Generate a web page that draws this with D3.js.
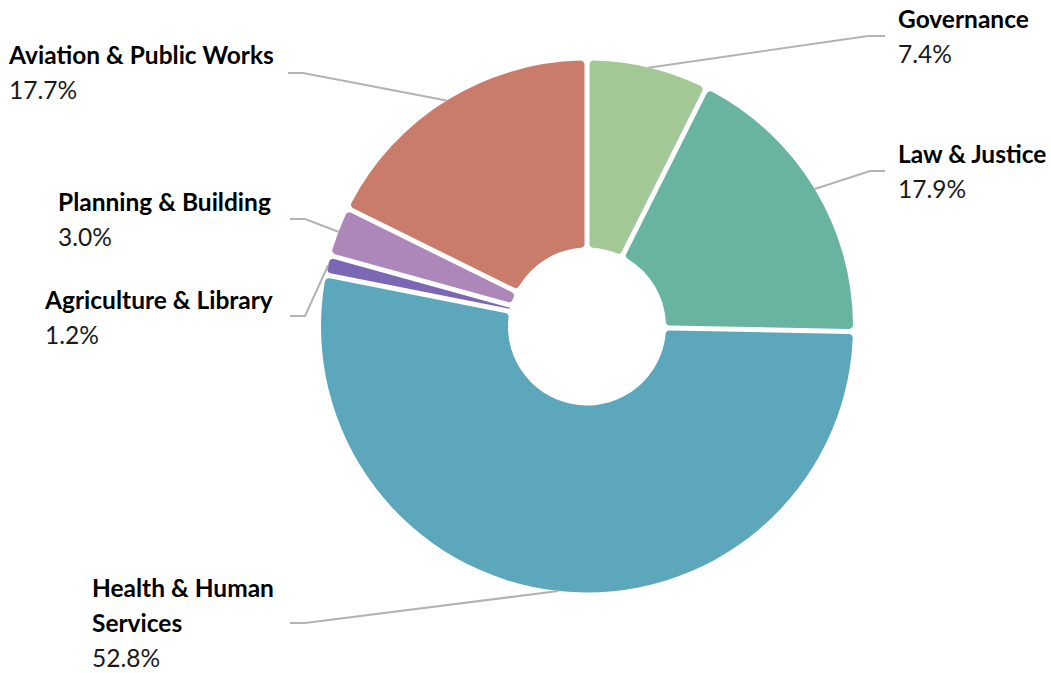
<!DOCTYPE html>
<html>
<head>
<meta charset="utf-8">
<script src="https://cdn.jsdelivr.net/npm/d3@7/dist/d3.min.js"></script>
<style>
  html, body { margin: 0; padding: 0; background: #fff; }
  svg { display: block; }
  text { font-family: Lato, "Open Sans", sans-serif; }
</style>
</head>
<body>
<svg id="chart" width="1051" height="673"></svg>
<script>
// ---- data ----
const categories = ["Governance", "Law & Justice", "Health & Human Services", "Agriculture & Library", "Planning & Building", "Aviation & Public Works"];
const values = [7.4, 17.9, 52.8, 1.2, 3.0, 17.7];
const valueLabels = ["7.4%", "17.9%", "52.8%", "1.2%", "3.0%", "17.7%"];
const labelLines = [["Governance"], ["Law & Justice"], ["Health & Human", "Services"], ["Agriculture & Library"], ["Planning & Building"], ["Aviation & Public Works"]];
const colors = ["#a3c795", "#69b4a1", "#5da7bd", "#7c67b4", "#ad87b9", "#ca7c6a"];

// ---- layout ----
const W = 1051, H = 673;
const cx = 587, cy = 326.5, R = 266, r0 = 79;
// label layout: text x, first baseline y, elbow x/y of leader, end x of horizontal part
const labelLayout = [
  { tx: 898, ty: 28, ex: 868, ey: 36, hx: 885 },
  { tx: 898, ty: 163, ex: 870, ey: 171, hx: 885 },
  { tx: 92, ty: 597, ex: 305, ey: 623, hx: 290 },
  { tx: 45, ty: 309, ex: 305, ey: 316, hx: 290 },
  { tx: 58, ty: 211, ex: 305, ey: 219, hx: 290 },
  { tx: 9, ty: 64, ex: 303, ey: 73, hx: 288 }
];
const lineH = 35;
const fontSize = 24.5;

const svg = d3.select("#chart");
const g = svg.append("g").attr("transform", `translate(${cx},${cy})`);

const pie = d3.pie().sort(null).value(d => d.v);
const data = categories.map((c, i) => ({ c, v: values[i], i }));
const arcs = pie(data);

const arc = d3.arc().innerRadius(r0).outerRadius(R).cornerRadius(4)
  .padAngle(0.05).padRadius(100);

g.selectAll("path.slice").data(arcs).join("path")
  .attr("class", "slice")
  .attr("d", arc)
  .attr("fill", d => colors[d.data.i]);

// leader lines
const anchorArc = d3.arc().innerRadius(R).outerRadius(R);
arcs.forEach(d => {
  const L = labelLayout[d.data.i];
  const p = anchorArc.centroid(d);
  const pts = [[p[0] + cx, p[1] + cy], [L.ex, L.ey], [L.hx, L.ey]];
  svg.append("path")
    .attr("d", d3.line()(pts))
    .attr("fill", "none")
    .attr("stroke", "#b3b3b3")
    .attr("stroke-width", 2);
});

// labels
arcs.forEach(d => {
  const i = d.data.i;
  const L = labelLayout[i];
  const t = svg.append("text").attr("x", L.tx).attr("y", L.ty)
    .attr("font-size", fontSize).attr("fill", "#000");
  labelLines[i].forEach((ln, k) => {
    t.append("tspan").attr("x", L.tx).attr("dy", k === 0 ? 0 : lineH)
      .attr("font-weight", 700).text(ln);
  });
  t.append("tspan").attr("x", L.tx).attr("dy", lineH)
    .attr("font-weight", 400).attr("fill", "#1a1a1a").text(valueLabels[i]);
});
</script>
</body>
</html>
